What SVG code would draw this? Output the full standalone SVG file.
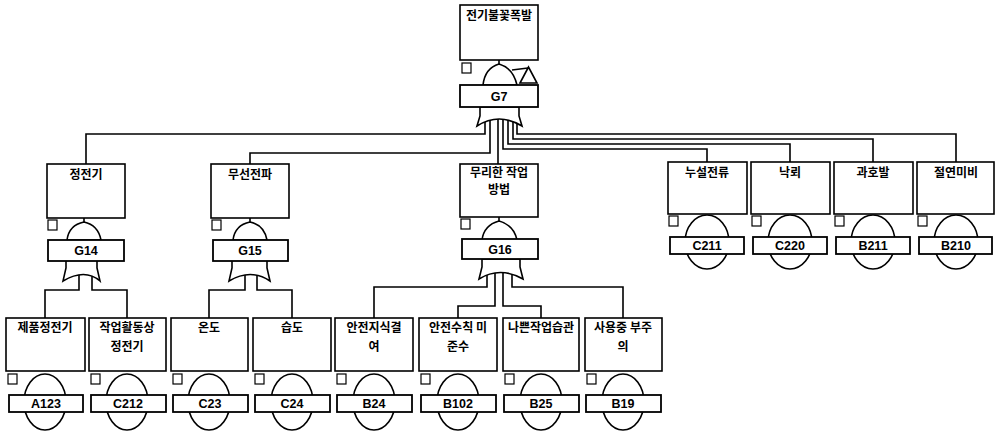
<svg xmlns="http://www.w3.org/2000/svg" width="995" height="435" viewBox="0 0 995 435">
<style>
.box{fill:#fff;stroke:#000;stroke-width:1.6}
.sq{fill:#fff;stroke:#000;stroke-width:1.2}
.gate{fill:#fff;stroke:#000;stroke-width:1.6}
.lbl{fill:#fff;stroke:#000;stroke-width:1.8}
.wire{fill:none;stroke:#000;stroke-width:1.6}
.kt{font-family:"Noto Sans CJK KR","Noto Sans",sans-serif;font-size:12px;font-weight:bold;text-anchor:middle;fill:#000}
.id{font-family:"Liberation Sans",Arial,sans-serif;font-size:12.5px;font-weight:bold;text-anchor:middle;fill:#000}
</style>
<rect width="995" height="435" fill="#fff"/>
<g id="connectors" class="wire">
<path d="M485,112 V134 H86 V164"/>
<path d="M490,112 V153 H250 V164"/>
<path d="M498,112 V164"/>
<path d="M503,112 V149 H707 V162"/>
<path d="M508,112 V144 H790 V162"/>
<path d="M513,112 V139 H873 V162"/>
<path d="M517,112 V134 H956 V162"/>
<path d="M79,266 V290 H45 V318"/>
<path d="M92,266 V290 H127 V318"/>
<path d="M245,266 V290 H209 V318"/>
<path d="M257,266 V290 H292 V318"/>
<path d="M487,266 V287 H374 V318"/>
<path d="M495,266 V306 H458 V318"/>
<path d="M503,266 V306 H541 V318"/>
<path d="M512,266 V287 H623 V318"/>
</g>
<g id="G7">
<rect class="box" x="460" y="5" width="78" height="55"/>
<text class="kt" x="499" y="20">전기불꽃폭발</text>
<rect class="sq" x="462" y="63" width="9" height="10"/>
<line class="wire" x1="499" y1="60" x2="499" y2="64"/>
<path class="gate" d="M483,85 Q485,68 499,64 Q513,68 517,85 Z"/>
<line class="wire" x1="512" y1="70" x2="528" y2="68"/>
<polygon class="gate" points="520,83 528.5,67 537,83"/>
<path class="gate" d="M480,107 V116 L477,126 Q499,112 522,126 L519,116 V107 Z"/>
<rect class="lbl" x="460" y="85" width="78" height="22"/>
<text class="id" x="499" y="101">G7</text>
</g>
<g id="G14">
<rect class="box" x="47" y="164" width="78" height="54"/>
<text class="kt" x="86" y="179">정전기</text>
<rect class="sq" x="48" y="220" width="9" height="10"/>
<line class="wire" x1="84" y1="218" x2="84" y2="223"/>
<path class="gate" d="M67,240 Q69,225 84,222 Q98,225 101,240 Z"/>
<path class="gate" d="M66,260 V268 L63,281 Q85,268 100,281 L97,268 V260 Z"/>
<rect class="lbl" x="48" y="240" width="76" height="21"/>
<text class="id" x="86" y="255">G14</text>
</g>
<g id="G15">
<rect class="box" x="211" y="164" width="78" height="54"/>
<text class="kt" x="250" y="179">무선전파</text>
<rect class="sq" x="212" y="220" width="9" height="10"/>
<line class="wire" x1="250" y1="218" x2="250" y2="223"/>
<path class="gate" d="M233,240 Q235,225 250,222 Q264,225 267,240 Z"/>
<path class="gate" d="M232,260 V268 L229,281 Q251,268 270,281 L267,268 V260 Z"/>
<rect class="lbl" x="213" y="240" width="75" height="21"/>
<text class="id" x="250" y="255">G15</text>
</g>
<g id="G16">
<rect class="box" x="460" y="164" width="78" height="53"/>
<text class="kt" x="499" y="177">무리한 작업</text>
<text class="kt" x="499" y="194">방법</text>
<rect class="sq" x="461" y="219" width="9" height="10"/>
<line class="wire" x1="499" y1="217" x2="499" y2="222"/>
<path class="gate" d="M482,240 Q484,225 499,221 Q514,225 517,240 Z"/>
<path class="gate" d="M482,259 V267 L479,279 Q500,266 523,279 L520,267 V259 Z"/>
<rect class="lbl" x="462" y="239" width="76" height="20"/>
<text class="id" x="500" y="254">G16</text>
</g>
<g id="C211">
<rect class="box" x="668" y="162" width="79" height="52"/>
<text class="kt" x="707" y="177">누설전류</text>
<rect class="sq" x="669" y="216" width="9" height="10"/>
<ellipse class="gate" cx="707" cy="242" rx="22" ry="27"/>
<rect class="lbl" x="670" y="237" width="74" height="17"/>
<text class="id" x="707" y="250">C211</text>
</g>
<g id="C220">
<rect class="box" x="751" y="162" width="79" height="52"/>
<text class="kt" x="790" y="177">낙뢰</text>
<rect class="sq" x="752" y="216" width="9" height="10"/>
<ellipse class="gate" cx="790" cy="242" rx="22" ry="27"/>
<rect class="lbl" x="753" y="237" width="74" height="17"/>
<text class="id" x="790" y="250">C220</text>
</g>
<g id="B211">
<rect class="box" x="834" y="162" width="79" height="52"/>
<text class="kt" x="873" y="177">과호발</text>
<rect class="sq" x="835" y="216" width="9" height="10"/>
<ellipse class="gate" cx="873" cy="242" rx="22" ry="27"/>
<rect class="lbl" x="836" y="237" width="74" height="17"/>
<text class="id" x="873" y="250">B211</text>
</g>
<g id="B210">
<rect class="box" x="917" y="162" width="77" height="52"/>
<text class="kt" x="956" y="177">절연미비</text>
<rect class="sq" x="918" y="216" width="9" height="10"/>
<ellipse class="gate" cx="956" cy="242" rx="22" ry="27"/>
<rect class="lbl" x="919" y="237" width="73" height="17"/>
<text class="id" x="956" y="250">B210</text>
</g>
<g id="A123">
<rect class="box" x="6" y="318" width="79" height="53"/>
<text class="kt" x="45" y="332">제품정전기</text>
<rect class="sq" x="8" y="374" width="9" height="10"/>
<ellipse class="gate" cx="45" cy="402" rx="21" ry="28"/>
<rect class="lbl" x="9" y="395" width="74" height="17"/>
<text class="id" x="46" y="408">A123</text>
</g>
<g id="C212">
<rect class="box" x="89" y="318" width="77" height="53"/>
<text class="kt" x="127" y="332">작업활동상</text>
<text class="kt" x="127" y="351">정전기</text>
<rect class="sq" x="91" y="374" width="9" height="10"/>
<ellipse class="gate" cx="127" cy="402" rx="21" ry="28"/>
<rect class="lbl" x="91" y="395" width="75" height="17"/>
<text class="id" x="128" y="408">C212</text>
</g>
<g id="C23">
<rect class="box" x="171" y="318" width="77" height="53"/>
<text class="kt" x="209" y="332">온도</text>
<rect class="sq" x="173" y="374" width="9" height="10"/>
<ellipse class="gate" cx="209" cy="402" rx="21" ry="28"/>
<rect class="lbl" x="173" y="395" width="75" height="17"/>
<text class="id" x="210" y="408">C23</text>
</g>
<g id="C24">
<rect class="box" x="253" y="318" width="78" height="53"/>
<text class="kt" x="292" y="332">습도</text>
<rect class="sq" x="255" y="374" width="9" height="10"/>
<ellipse class="gate" cx="292" cy="402" rx="21" ry="28"/>
<rect class="lbl" x="255" y="395" width="75" height="17"/>
<text class="id" x="292" y="408">C24</text>
</g>
<g id="B24">
<rect class="box" x="335" y="318" width="78" height="53"/>
<text class="kt" x="374" y="332">안전지식결</text>
<text class="kt" x="374" y="351">여</text>
<rect class="sq" x="337" y="374" width="9" height="10"/>
<ellipse class="gate" cx="374" cy="402" rx="21" ry="28"/>
<rect class="lbl" x="337" y="395" width="75" height="17"/>
<text class="id" x="374" y="408">B24</text>
</g>
<g id="B102">
<rect class="box" x="419" y="318" width="78" height="53"/>
<text class="kt" x="458" y="332">안전수칙 미</text>
<text class="kt" x="458" y="351">준수</text>
<rect class="sq" x="421" y="374" width="9" height="10"/>
<ellipse class="gate" cx="458" cy="402" rx="21" ry="28"/>
<rect class="lbl" x="421" y="395" width="75" height="17"/>
<text class="id" x="458" y="408">B102</text>
</g>
<g id="B25">
<rect class="box" x="503" y="318" width="76" height="53"/>
<text class="kt" x="541" y="332">나쁜작업습관</text>
<rect class="sq" x="505" y="374" width="9" height="10"/>
<ellipse class="gate" cx="541" cy="402" rx="21" ry="28"/>
<rect class="lbl" x="504" y="395" width="75" height="17"/>
<text class="id" x="541" y="408">B25</text>
</g>
<g id="B19">
<rect class="box" x="585" y="318" width="77" height="53"/>
<text class="kt" x="623" y="332">사용중 부주</text>
<text class="kt" x="623" y="351">의</text>
<rect class="sq" x="587" y="374" width="9" height="10"/>
<ellipse class="gate" cx="623" cy="402" rx="21" ry="28"/>
<rect class="lbl" x="586" y="395" width="75" height="17"/>
<text class="id" x="623" y="408">B19</text>
</g>
</svg>
